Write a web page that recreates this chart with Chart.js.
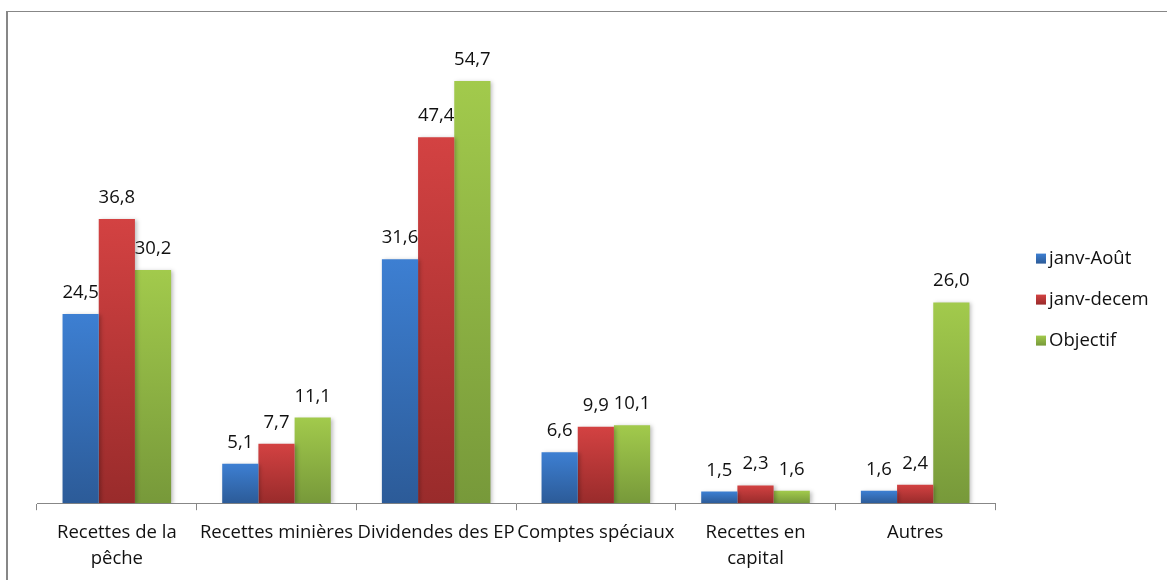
<!DOCTYPE html>
<html>
<head>
<meta charset="utf-8">
<script src="https://cdn.jsdelivr.net/npm/chart.js@4"></script>
<style>
  html, body { margin: 0; padding: 0; background: #fff; overflow: hidden; }
  #frame { position: absolute; left: 6px; top: 11px; width: 1400px; height: 800px;
           border-left: 2px solid #878787; border-top: 1px solid #878787; }
  #c { position: absolute; left: 0; top: 0; }
</style>
</head>
<body>
<div id="frame"></div>
<canvas id="c" width="1167" height="580"></canvas>
<script>
// categories and values
const categories = [
    ['Recettes de la', 'pêche'],
    'Recettes minières',
    'Dividendes des EP',
    'Comptes spéciaux',
    ['Recettes en', 'capital'],
    'Autres',
];
const seriesNames = ['janv-Août', 'janv-decem', 'Objectif'];
const janvAout  = [24.5, 5.1, 31.6, 6.6, 1.5, 1.6];
const janvDecem = [36.8, 7.7, 47.4, 9.9, 2.3, 2.4];
const objectif  = [30.2, 11.1, 54.7, 10.1, 1.6, 26.0];

// top / bottom colours of each series gradient
const gradTop    = ['#3d7fd2', '#d34242', '#a2ca4c'];
const gradBottom = ['#2c5b98', '#992b2b', '#77993a'];

const FONT = '"Open Sans", Calibri, sans-serif';
const SIZE = 18.5;
const fmt = v => v.toFixed(1).replace('.', ',');

// per-bar vertical gradient + value labels
const barDecor = {
    id: 'barDecor',
    beforeDatasetsDraw(chart) {
        const ctx = chart.ctx;
        chart.data.datasets.forEach((ds, di) => {
            chart.getDatasetMeta(di).data.forEach(bar => {
                const g = ctx.createLinearGradient(0, bar.y, 0, bar.base);
                g.addColorStop(0, gradTop[di]);
                g.addColorStop(1, gradBottom[di]);
                bar.options = Object.assign({}, bar.options, { backgroundColor: g });
            });
        });
        ctx.save();
        ctx.shadowColor = 'rgba(0,0,0,0.25)';
        ctx.shadowBlur = 4;
        ctx.shadowOffsetX = 2;
        ctx.shadowOffsetY = 1;
    },
    afterDatasetsDraw(chart) {
        const ctx = chart.ctx;
        ctx.restore();
        ctx.save();
        ctx.font = SIZE + 'px ' + FONT;
        ctx.fillStyle = '#111';
        ctx.textAlign = 'center';
        ctx.textBaseline = 'alphabetic';
        chart.data.datasets.forEach((ds, di) => {
            chart.getDatasetMeta(di).data.forEach((bar, i) => {
                ctx.fillText(fmt(ds.data[i]), bar.x, bar.y - 16);
            });
        });
        ctx.restore();
    },
};

// legend on the right, placed from the chart area
const sideLegend = {
    id: 'sideLegend',
    afterDraw(chart) {
        const ctx = chart.ctx;
        const area = chart.chartArea;
        const x = area.right + 41;
        const step = 41;
        const y0 = (area.top + area.bottom) / 2 - 13;
        ctx.save();
        ctx.font = SIZE + 'px ' + FONT;
        ctx.textBaseline = 'middle';
        ctx.textAlign = 'left';
        seriesNames.forEach((name, i) => {
            const y = y0 + i * step;
            const g = ctx.createLinearGradient(0, y - 5, 0, y + 5);
            g.addColorStop(0, gradTop[i]);
            g.addColorStop(1, gradBottom[i]);
            ctx.fillStyle = g;
            ctx.fillRect(x, y - 5, 10, 10);
            ctx.fillStyle = '#111';
            ctx.fillText(name, x + 13, y);
        });
        ctx.restore();
    },
};

new Chart(document.getElementById('c'), {
    type: 'bar',
    data: {
        labels: categories,
        datasets: [
            { label: seriesNames[0], data: janvAout,  backgroundColor: gradTop[0] },
            { label: seriesNames[1], data: janvDecem, backgroundColor: gradTop[1] },
            { label: seriesNames[2], data: objectif,  backgroundColor: gradTop[2] },
        ],
    },
    options: {
        responsive: false,
        animation: false,
        layout: { padding: { left: 37, right: 172, top: 40, bottom: -2 } },
        datasets: { bar: { categoryPercentage: 0.68, barPercentage: 1, borderWidth: 0 } },
        plugins: { legend: { display: false }, tooltip: { enabled: false } },
        scales: {
            x: {
                grid: { drawOnChartArea: false, drawTicks: true, tickLength: 7, color: '#878787', offset: true },
                border: { display: true, color: '#878787', width: 1 },
                ticks: { color: '#111', font: { family: FONT, size: SIZE, lineHeight: 1.4 }, padding: 10, maxRotation: 0, autoSkip: false },
            },
            y: { display: false, min: 0, max: 60 },
        },
    },
    plugins: [barDecor, sideLegend],
});
</script>
</body>
</html>
